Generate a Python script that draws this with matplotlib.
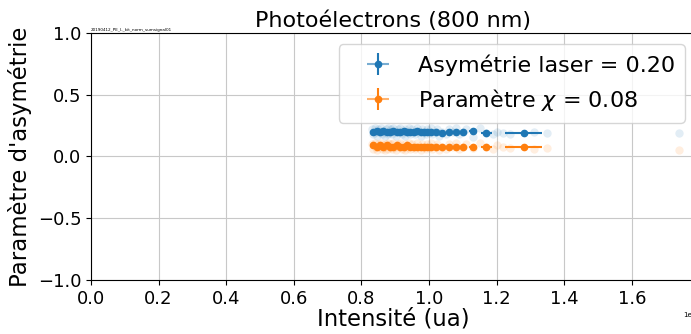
import numpy as np
import matplotlib
matplotlib.use("Agg")
import matplotlib.pyplot as plt

# === Données (intensité en unités de 1e8) ===
raw_x = [0.830, 0.835, 0.840, 0.842, 0.845, 0.850, 0.853, 0.857, 0.860, 0.864,
         0.868, 0.870, 0.874, 0.878, 0.880, 0.885, 0.888, 0.890, 0.895, 0.900,
         0.903, 0.907, 0.910, 0.915, 0.920, 0.924, 0.928, 0.930, 0.935, 0.940,
         0.945, 0.950, 0.955, 0.960, 0.965, 0.970, 0.975, 0.980, 0.985, 0.990,
         0.995, 1.000, 1.005, 1.010, 1.020, 1.025, 1.030, 1.040, 1.050, 1.060,
         1.070, 1.080, 1.090, 1.100, 1.110, 1.130, 1.150, 1.170, 1.190, 1.200,
         1.220, 1.240, 1.310, 1.350, 1.740]
raw_asym = [0.22, 0.18, 0.23, 0.20, 0.17, 0.22, 0.20, 0.23, 0.18, 0.21,
            0.20, 0.17, 0.22, 0.23, 0.18, 0.20, 0.22, 0.18, 0.23, 0.20,
            0.17, 0.22, 0.20, 0.23, 0.18, 0.20, 0.22, 0.17, 0.20, 0.23,
            0.18, 0.22, 0.20, 0.18, 0.23, 0.20, 0.17, 0.22, 0.20, 0.18,
            0.22, 0.20, 0.23, 0.18, 0.20, 0.22, 0.17, 0.20, 0.18, 0.22,
            0.20, 0.23, 0.18, 0.20, 0.22, 0.16, 0.23, 0.19, 0.18, 0.20,
            0.19, 0.18, 0.20, 0.19, 0.19]
raw_chi = [0.10, 0.06, 0.11, 0.08, 0.05, 0.10, 0.08, 0.11, 0.06, 0.09,
           0.08, 0.05, 0.10, 0.11, 0.06, 0.08, 0.10, 0.06, 0.11, 0.08,
           0.05, 0.10, 0.08, 0.11, 0.06, 0.08, 0.10, 0.05, 0.08, 0.11,
           0.06, 0.10, 0.08, 0.06, 0.11, 0.08, 0.05, 0.10, 0.08, 0.06,
           0.10, 0.08, 0.11, 0.06, 0.08, 0.10, 0.05, 0.08, 0.06, 0.10,
           0.08, 0.11, 0.06, 0.08, 0.10, 0.07, 0.11, 0.08, 0.06, 0.09,
           0.08, 0.07, 0.06, 0.07, 0.05]

bin_x = [0.835, 0.845, 0.855, 0.865, 0.875, 0.885, 0.895, 0.905, 0.915, 0.925,
         0.935, 0.945, 0.955, 0.965, 0.975, 0.985, 0.995, 1.005, 1.020, 1.040,
         1.060, 1.080, 1.100, 1.130, 1.170, 1.280]
bin_xerr = [0.005] * 18 + [0.008, 0.008, 0.008, 0.008, 0.010, 0.012, 0.015, 0.055]
bin_asym = [0.20, 0.21, 0.20, 0.21, 0.20, 0.20, 0.21, 0.20, 0.20, 0.21,
            0.20, 0.20, 0.20, 0.21, 0.20, 0.20, 0.20, 0.20, 0.20, 0.19,
            0.20, 0.20, 0.20, 0.21, 0.19, 0.19]
bin_chi = [0.09, 0.08, 0.09, 0.08, 0.09, 0.08, 0.08, 0.09, 0.08, 0.08,
           0.09, 0.08, 0.08, 0.08, 0.08, 0.08, 0.08, 0.08, 0.08, 0.08,
           0.08, 0.08, 0.08, 0.08, 0.08, 0.08]
bin_yerr = [0.005] * len(bin_x)

asym_mean = 0.20
chi_mean = 0.08
scale = 1e8

# === Figure ===
fig = plt.figure(figsize=(6.91, 3.34), dpi=100)
ax = fig.add_axes([0.1317, 0.1617, 0.8755, 0.7395])

rx = np.array(raw_x) * scale
bx = np.array(bin_x) * scale
bxe = np.array(bin_xerr) * scale

ax.plot(rx, raw_asym, 'o', color='C0', alpha=0.13, ms=6, mec='none')
ax.plot(rx, raw_chi, 'o', color='C1', alpha=0.13, ms=6, mec='none')

ax.errorbar(bx, bin_asym, xerr=bxe, yerr=bin_yerr, fmt='o', color='C0', ms=4.5,
            label="Asymétrie laser = %.2f" % asym_mean)
ax.errorbar(bx, bin_chi, xerr=bxe, yerr=bin_yerr, fmt='o', color='C1', ms=4.5,
            label=r"Paramètre $\chi$ = %.2f" % chi_mean)

ax.set_xlim(0, 1.79 * scale)
ax.set_ylim(-1, 1)
ax.grid(True, color='#c8c8c8')
ax.tick_params(labelsize=13)
ax.xaxis.get_offset_text().set_fontsize(5)

ax.set_title("Photoélectrons (800 nm)", fontsize=16, pad=4)
ax.set_xlabel("Intensité (ua)", fontsize=16.4, labelpad=0)
ax.set_ylabel("Paramètre d'asymétrie", fontsize=16.4, labelpad=4)
ax.text(0.0, 1.005, "20190412_PE_I-_kit_norm_sumsignal01", transform=ax.transAxes,
        fontsize=3, va='bottom')

leg = ax.legend(loc='upper right', fontsize=16, handlelength=2.6, borderpad=0.45,
                handletextpad=0.5)
for h in leg.legend_handles:
    h.set_alpha(0.6)

fig.savefig("out.png", dpi=100)
